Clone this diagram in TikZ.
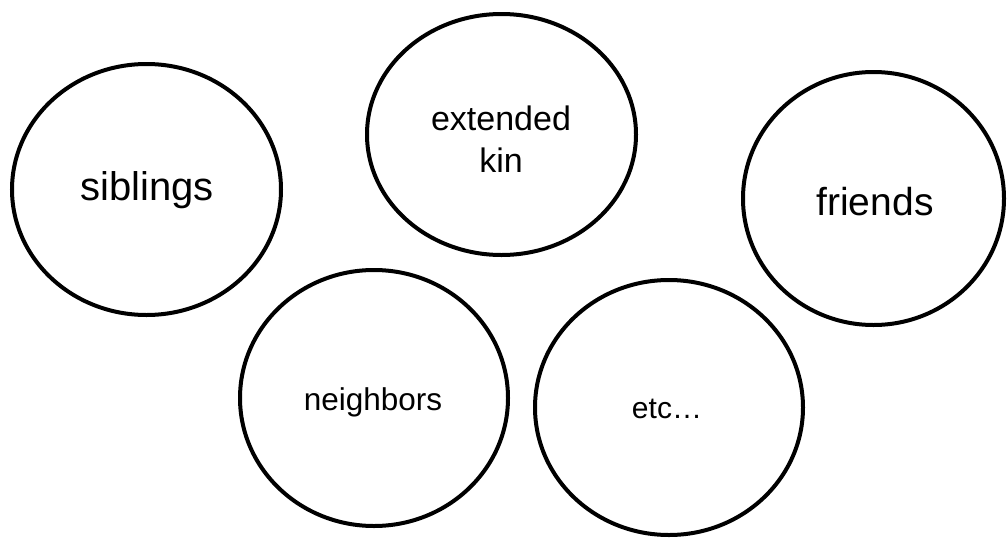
\documentclass[tikz,border=0pt]{standalone}
\usepackage{fontspec}
\setmainfont{Liberation Sans}
\usetikzlibrary{shapes.geometric}
\tikzset{
  circ/.style={draw=black, line width=4pt, ellipse, inner sep=0pt},
  lbl/.style={anchor=base, inner sep=0pt, text=black}
}
\begin{document}
\begin{tikzpicture}[x=1pt,y=-1pt]
\useasboundingbox (0,0) rectangle (1007,541);
\node[circ, minimum width=269pt, minimum height=251pt] (sib) at (146.5,189.5) {};
\node[circ, minimum width=269pt, minimum height=241pt] (ext) at (501.5,134.5) {};
\node[circ, minimum width=261pt, minimum height=253pt] (fri) at (873.5,198.5) {};
\node[circ, minimum width=268pt, minimum height=256pt] (nei) at (374,398) {};
\node[circ, minimum width=268pt, minimum height=255pt] (etc) at (669,407.5) {};
\node[lbl, font=\fontsize{40}{48}\selectfont] (sibt) at (147,200) {siblings};
\node[lbl, font=\fontsize{34}{42}\selectfont] (extt1) at (501,130) {extended};
\node[lbl, font=\fontsize{34}{42}\selectfont] (extt2) at (501,172) {kin};
\node[lbl, font=\fontsize{39}{47}\selectfont] (frit) at (875,215) {friends};
\node[lbl, font=\fontsize{31.5}{38}\selectfont] (neit) at (373,410) {neighbors};
\node[lbl, font=\fontsize{30}{36}\selectfont] (etct) at (667,418) {etc…};
\end{tikzpicture}
\end{document}
